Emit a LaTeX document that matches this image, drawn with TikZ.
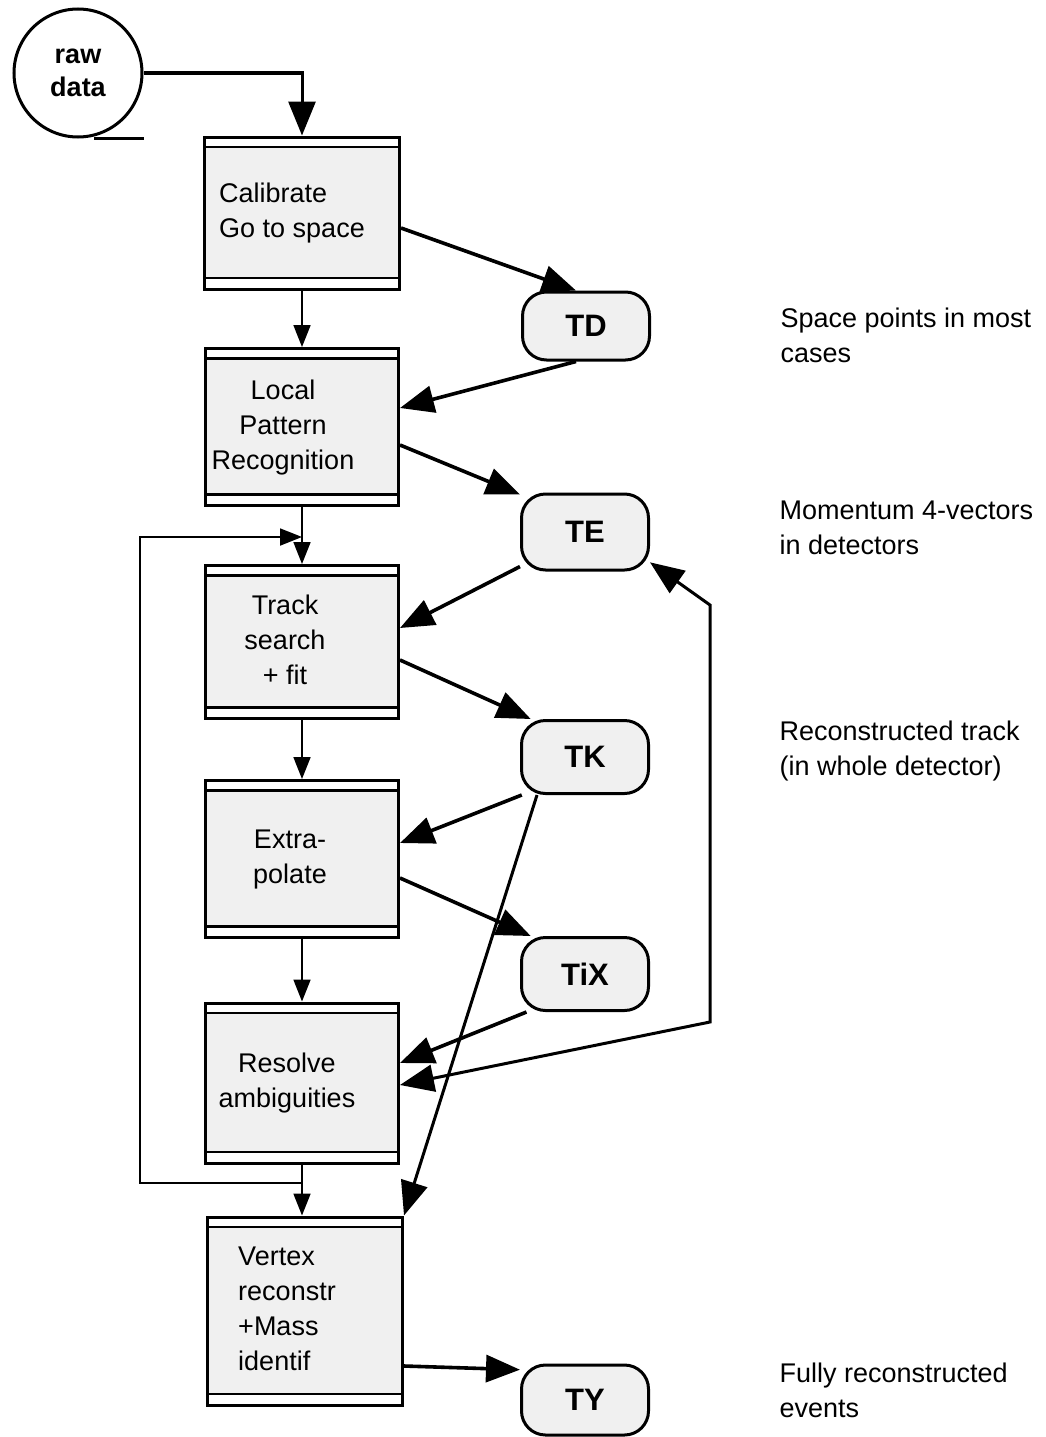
\documentclass[tikz,border=0pt]{standalone}
\usepackage{fontspec}
\setmainfont{Liberation Sans}
\usetikzlibrary{arrows.meta,positioning,calc}
\newcommand{\steptext}[3]{\begin{tabular}{@{}#1@{}}#3\end{tabular}\hspace*{#2}}
\tikzset{
  flow/.style={-{Triangle[length=34pt,width=27pt]},line width=3.6pt},
  seq/.style={-{Triangle[length=22pt,width=17pt]},line width=1.8pt},
  stage/.style={draw,line width=3pt,fill=black!6,inner sep=0pt,
    font=\fontsize{27}{35}\selectfont,
    path picture={
      \fill[white] (path picture bounding box.north west)
        rectangle ([yshift=-10pt]path picture bounding box.north east);
      \fill[white] (path picture bounding box.south west)
        rectangle ([yshift=11pt]path picture bounding box.south east);
      \draw[line width=2.6pt] ([yshift=-10pt]path picture bounding box.north west)
        -- ([yshift=-10pt]path picture bounding box.north east);
      \draw[line width=2.6pt] ([yshift=11pt]path picture bounding box.south west)
        -- ([yshift=11pt]path picture bounding box.south east);}},
  labeltext/.style={font=\fontsize{27}{35}\selectfont,align=left,anchor=west}
}

\begin{document}
\begin{tikzpicture}[x=1pt,y=-1pt,
  tape/.style={draw,circle,line width=3pt,minimum size=128pt,inner sep=0pt,
    align=center,font=\bfseries\fontsize{27}{33}\selectfont},
  bank/.style={draw,line width=3pt,rounded corners=24pt,fill=black!6,
    minimum width=127pt,minimum height=71pt,font=\bfseries\fontsize{31}{31}\selectfont},
  feed/.style={-{Triangle[length=22pt,width=17pt]},line width=1.8pt}]
\useasboundingbox (0,0) rectangle (1046,1437);
% stages
\node[tape] (raw) at (78,73) {raw\\data};
\node[stage,minimum width=195pt,minimum height=152pt] (cal) at (302,213)
  {\steptext{l}{20pt}{Calibrate\\Go to space}};
\node[stage,minimum width=193pt,minimum height=157pt] (lpr) at (302,427)
  {\steptext{c}{38pt}{Local\\Pattern\\Recognition}};
\node[stage,minimum width=193pt,minimum height=153pt] (trk) at (302,642)
  {\steptext{c}{34pt}{Track\\search\\+ fit}};
\node[stage,minimum width=193pt,minimum height=157pt] (ext) at (302,859)
  {\steptext{c}{24pt}{Extra-\\polate}};
\node[stage,minimum width=193pt,minimum height=160pt] (res) at (302,1083)
  {\steptext{c}{30pt}{Resolve\\ambiguities}};
\node[stage,minimum width=195pt,minimum height=188pt] (vtx) at (305,1311)
  {\steptext{l}{36pt}{Vertex\\reconstr\\+Mass\\identif}};
% data banks
\node[bank,minimum height=68pt] (TD) at (586,326) {TD};
\node[bank,minimum height=76pt] (TE) at (585,532) {TE};
\node[bank,minimum height=73pt] (TK) at (585,757) {TK};
\node[bank,minimum height=73pt] (TiX) at (585,974) {TiX};
\node[bank,minimum height=70pt] (TY) at (585,1400) {TY};
% notes
\node[labeltext,right=126pt of TD,yshift=-9pt] (nTD) {Space points in most\\cases};
\node[labeltext,right=126pt of TE,yshift=4pt] (nTE) {Momentum 4-vectors\\in detectors};
\node[labeltext,right=126pt of TK,yshift=6pt] (nTK) {Reconstructed track\\(in whole detector)};
\node[labeltext,right=126pt of TY,yshift=10pt] (nTY) {Fully reconstructed\\events};
\coordinate (fbB) at (710,1022);
\coordinate (fbT) at (710,605);
\coordinate (lpB) at (140,1183);
\coordinate (lpT) at (140,537);
% main chain
\draw[line width=3pt] ([xshift=16pt]raw.south) -- (raw.south -| raw.east);
\draw[flow,line width=3pt] (raw.east) -| (cal.north);
\draw[seq] (cal.south) -- (lpr.north);
\draw[seq] (lpr.south) -- (trk.north);
\draw[seq] (trk.south) -- (ext.north);
\draw[seq] (ext.south) -- (res.north);
\draw[seq] (res.south) -- (res.south |- vtx.north);
\draw[feed] (res.south |- lpB) -- (lpB) -- (lpT) -- (lpT -| trk.north);
% banks in and out
\draw[flow] ([yshift=-15pt]cal.east) -- ([xshift=-10pt]TD.north);
\draw[flow] ([xshift=-10pt]TD.south) -- ([yshift=19pt]lpr.east);
\draw[flow] ([yshift=-18pt]lpr.east) -- (TE.150);
\draw[flow] (TE.208) -- ([yshift=14pt]trk.east);
\draw[flow] ([yshift=-18pt]trk.east) -- (TK.145);
\draw[flow] (TK.211) -- ([yshift=16pt]ext.east);
\draw[flow] ([yshift=-19pt]ext.east) -- (TiX.145);
\draw[flow] (TiX.213) -- ([yshift=20pt]res.east);
\draw[flow,line width=3pt] ([xshift=-48pt]TK.south) -- (vtx.north east);
\draw[flow,line width=3pt,{Triangle[length=34pt,width=27pt]}-{Triangle[length=34pt,width=27pt]}]
  ([yshift=-2pt]res.east) -- (fbB) -- (fbT) -- (TE.335);
\draw[flow] ([yshift=-55pt]vtx.east) -- (TY.155);
\end{tikzpicture}
\end{document}
